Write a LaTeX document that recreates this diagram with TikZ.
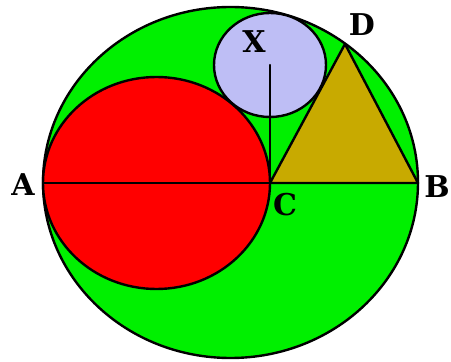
\documentclass[tikz,border=0pt]{standalone}
\usepackage{fontspec}
\newfontfamily\lblfont{DejaVu Serif}
\usepackage{tikz}
\usetikzlibrary{positioning,calc}
\definecolor{disc}{RGB}{0,240,0}
\definecolor{lilac}{RGB}{190,190,245}
\definecolor{olive}{RGB}{200,170,0}

\begin{document}
\begin{tikzpicture}[
  x=1pt, y=1pt,
  edge/.style={draw=black, line width=2.4pt},
  lbl/.style={font=\lblfont\bfseries\fontsize{30}{30}\selectfont, inner sep=0pt},
  seg/.style={line width=2.4pt, line cap=round}
]
  \useasboundingbox (0,0) rectangle (451,362);
  \coordinate (O) at (230.5,179.5);
  \coordinate (A) at (43,179);
  \coordinate (B) at (418,179);
  \coordinate (C) at (270,179);
  \coordinate (M) at (156.5,179);
  \coordinate (X) at (270,297);
  \coordinate (D) at (345,318);

  \path[edge, fill=disc] (O) ellipse [x radius=187.5, y radius=175.5];
  \path[edge, fill=red] (M) ellipse [x radius=113.5, y radius=106];
  \path[edge, fill=lilac] (X) ellipse [x radius=56, y radius=52];
  \path[edge, fill=olive, line join=round] (C) -- (D) -- (B) -- cycle;

  \draw[seg] (A) -- (B);
  \draw[seg] (X) -- (C);

  \node[lbl] (la) at (23,177) {A};
  \node[lbl] (lb) at (437,175) {B};
  \node[lbl] (lc) at (285,157) {C};
  \node[lbl] (ld) at (362,337) {D};
  \node[lbl] (lx) at (254,320) {X};
\end{tikzpicture}
\end{document}
